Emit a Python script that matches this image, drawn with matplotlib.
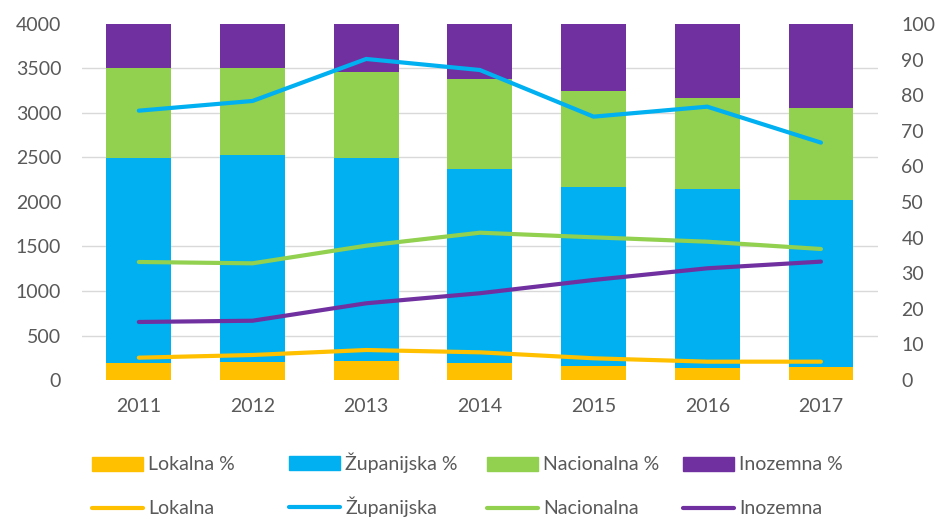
import numpy as np
import matplotlib.pyplot as plt
from matplotlib.patches import Patch
from matplotlib.lines import Line2D

plt.rcParams['font.family'] = ['Lato', 'DejaVu Sans']

years = ['2011', '2012', '2013', '2014', '2015', '2016', '2017']

# shares in % (right axis, stacked bars)
lokalna_pct = [4.9, 5.1, 5.4, 4.7, 4.0, 3.4, 3.7]
zupanijska_pct = [57.5, 58.0, 57.0, 54.5, 50.1, 50.3, 46.9]
nacionalna_pct = [25.1, 24.4, 24.2, 25.4, 27.0, 25.6, 25.8]
inozemna_pct = [12.5, 12.5, 13.4, 15.4, 18.9, 20.7, 23.6]

# absolute counts (left axis, lines)
lokalna = [251, 281, 337, 311, 244, 206, 206]
zupanijska = [3026, 3135, 3607, 3483, 2959, 3071, 2667]
nacionalna = [1326, 1311, 1509, 1655, 1603, 1554, 1472]
inozemna = [652, 666, 862, 975, 1124, 1255, 1330]

colors = ['#FFC000', '#00B0F0', '#92D050', '#7030A0']
names = ['Lokalna', 'Županijska', 'Nacionalna', 'Inozemna']
grey = '#595959'
fs = 14

fig = plt.figure(figsize=(9.39, 5.18), dpi=100)
ax = fig.add_axes([0.0873, 0.2664, 0.8475, 0.6873])
x = np.arange(len(years))

# bars on the percentage axis (shown on the right)
bottom = np.zeros(len(years))
for vals, c in zip([lokalna_pct, zupanijska_pct, nacionalna_pct, inozemna_pct], colors):
    ax.bar(x, vals, 0.57, bottom=bottom, color=c, zorder=2)
    bottom += np.array(vals)
ax.set_ylim(0, 100)
ax.set_yticks(np.arange(0, 101, 10))
ax.set_yticks(np.arange(0, 101, 12.5), minor=True)
ax.yaxis.set_minor_formatter(plt.NullFormatter())
ax.grid(axis='y', which='minor', color='#D9D9D9', linewidth=1)
ax.set_axisbelow(True)
ax.set_xlim(-0.5, len(years) - 0.5)
ax.set_xticks(x)
ax.set_xticklabels(years)

# lines on the count axis (shown on the left)
ax2 = ax.twinx()
for vals, c in zip([lokalna, zupanijska, nacionalna, inozemna], colors):
    ax2.plot(x, vals, color=c, linewidth=3, solid_capstyle='round')
ax2.set_ylim(0, 4000)
ax2.set_yticks(np.arange(0, 4001, 500))
ax2.yaxis.tick_left()
ax.yaxis.tick_right()

for a in (ax, ax2):
    for s in a.spines.values():
        s.set_visible(False)
    a.tick_params(which='both', length=0, labelsize=fs, labelcolor=grey)
ax.tick_params(axis='x', pad=13)
ax.tick_params(axis='y', pad=17)
ax2.tick_params(axis='y', pad=15)

# legend: one entry per slot, fixed spacing like the original
xs = [92, 289, 487, 683]
rows = [465, 509]
for i in range(4):
    entries = [(Patch(color=colors[i]), names[i] + ' %'),
               (Line2D([], [], color=colors[i], linewidth=3, solid_capstyle='round'), names[i])]
    # the caron on Ž makes the text box taller, so nudge that slot up a little
    dy = -2.5 if names[i].startswith('Ž') else 0
    for (h, lab), yr in zip(entries, rows):
        fig.legend([h], [lab], loc='center left', bbox_to_anchor=(xs[i] / 939, 1 - (yr + dy) / 518),
                   frameon=False, fontsize=fs, labelcolor=grey, handlelength=2.6,
                   handleheight=0.75, handletextpad=0.3, borderaxespad=0, borderpad=0)

fig.savefig('out.png', dpi=100)
